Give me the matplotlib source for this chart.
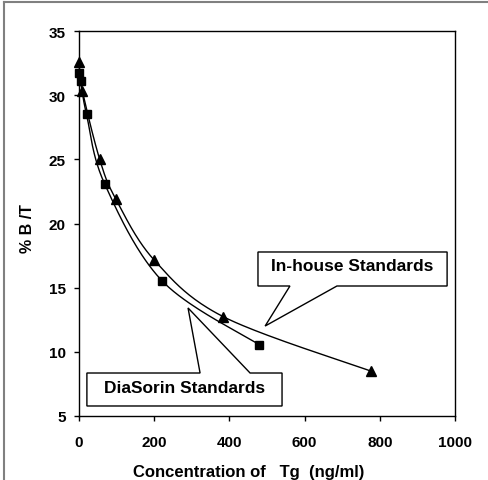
import numpy as np
import matplotlib
matplotlib.use("Agg")
import matplotlib.pyplot as plt
from matplotlib.patches import Polygon
from matplotlib.lines import Line2D

plt.rcParams["font.family"] = ["Liberation Sans", "DejaVu Sans"]
plt.rcParams["font.weight"] = "bold"

# In-house standards (triangles)
inhouse_x = [0, 9, 55, 98, 200, 383, 776]
inhouse_y = [32.6, 30.35, 25.0, 21.9, 17.15, 12.75, 8.5]

# DiaSorin standards (squares)
diasorin_x = [0, 4, 20, 68, 222, 480]
diasorin_y = [31.7, 31.1, 28.5, 23.1, 15.5, 10.55]

x_ticks = [0, 200, 400, 600, 800, 1000]
y_ticks = [5, 10, 15, 20, 25, 30, 35]

W, H = 488, 481
fig = plt.figure(figsize=(W/100, H/100), dpi=100)
ax = fig.add_axes([79/W, 1-417/H, 376/W, 385/H])
ax.set_xlim(0, 1000)
ax.set_ylim(5, 35)

# scale for smoothing in screen space
SX, SY = 376/1000, 385/30


def smooth(xs, ys, n=40):
    P = np.column_stack([np.array(xs)*SX, (np.array(ys)-5)*SY])
    out = [P[0]]
    m = len(P)
    t = np.linspace(0, 1, n)[1:, None]
    for i in range(m-1):
        p0 = P[i-1] if i > 0 else P[i]
        p3 = P[i+2] if i+2 < m else P[i+1]
        c1 = P[i] + (P[i+1]-p0)/6
        c2 = P[i+1] - (p3-P[i])/6
        seg = ((1-t)**3)*P[i] + 3*((1-t)**2)*t*c1 + 3*(1-t)*t**2*c2 + t**3*P[i+1]
        out.extend(seg)
    out = np.array(out)
    return out[:, 0]/SX, out[:, 1]/SY + 5


for xs, ys, mk, ms in [(inhouse_x, inhouse_y, "^", 7), (diasorin_x, diasorin_y, "s", 5.5)]:
    cx, cy = smooth(xs, ys)
    ax.plot(cx, cy, color="black", lw=1.0, clip_on=False)
    ax.plot(xs, ys, linestyle="none", marker=mk, ms=ms, color="black", clip_on=False, zorder=3)

# callouts
inhouse_box = [(476, 17.78), (979, 17.78), (979, 15.13), (686, 15.13), (495, 12.01),
               (561, 15.13), (476, 15.13)]
diasorin_box = [(21, 8.35), (322, 8.35), (290, 13.42), (455, 8.35), (540, 8.35),
                (540, 5.78), (21, 5.78)]
for pts in [inhouse_box, diasorin_box]:
    ax.add_patch(Polygon(pts, closed=True, facecolor="white", edgecolor="black", lw=1.0, zorder=4))
ax.text(727, 16.37, "In-house Standards", ha="center", va="baseline", fontsize=12.5,
        fontweight="bold", zorder=5)
ax.text(280, 6.85, "DiaSorin Standards", ha="center", va="baseline", fontsize=12.5,
        fontweight="bold", zorder=5)

ax.set_xticks(x_ticks)
ax.set_yticks(y_ticks)
ax.tick_params(axis="both", direction="out", length=3.5, width=1.0, labelsize=11)
ax.tick_params(axis="x", pad=10)
ax.tick_params(axis="y", pad=6)
for lab in ax.get_xticklabels() + ax.get_yticklabels():
    lab.set_fontweight("bold")
for s in ax.spines.values():
    s.set_linewidth(1.0)

fig.text(249/W, 1-477/H, "Concentration of   Tg  (ng/ml)", ha="center", va="baseline",
         fontsize=12, fontweight="bold")
fig.text(28/W, 1-229/H, "% B /T", ha="center", va="center", rotation=90,
         fontsize=11.5, fontweight="bold")

# outer frame (top and left edges visible)
fig.add_artist(Line2D([4/W, 1], [1-3/H, 1-3/H], color="#808080", lw=1.5))
fig.add_artist(Line2D([4/W, 4/W], [0, 1-3/H], color="#808080", lw=1.5))

fig.savefig("out.png", dpi=100)
